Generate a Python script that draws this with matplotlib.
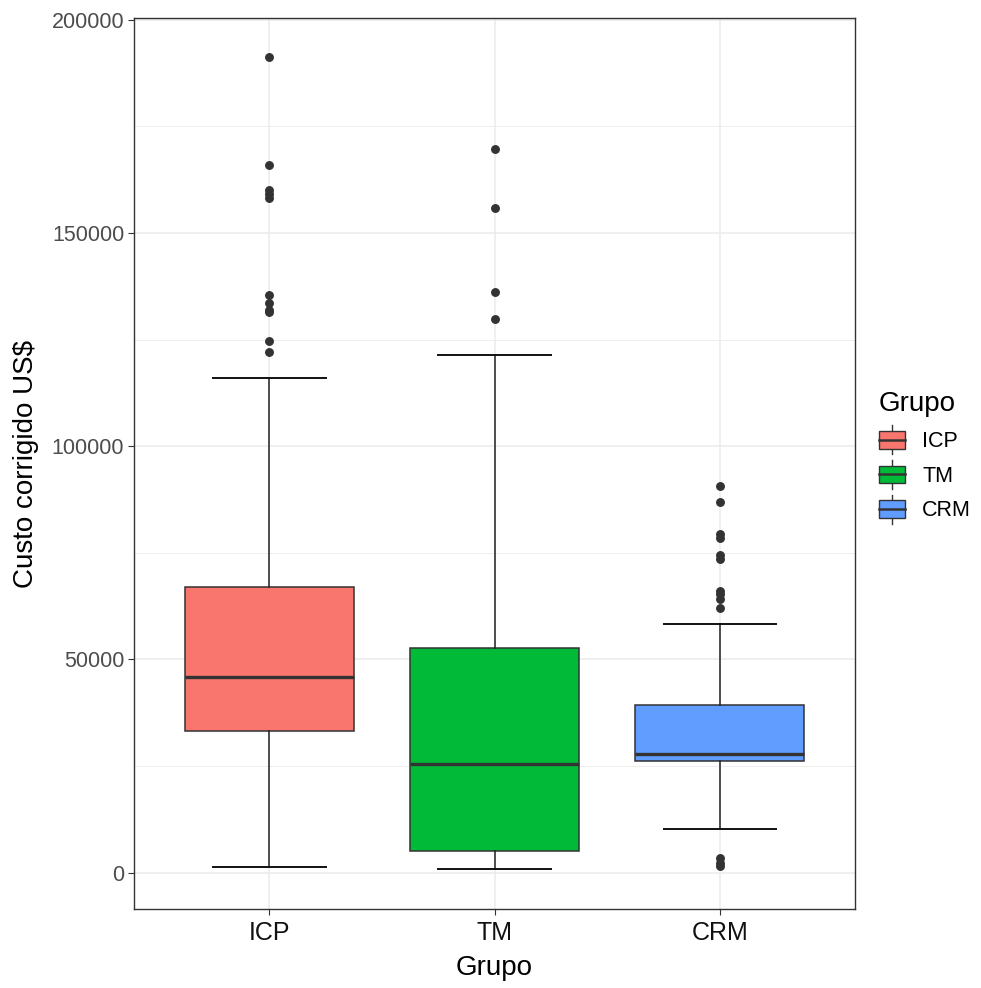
import matplotlib.pyplot as plt
from matplotlib.legend_handler import HandlerBase
from matplotlib.patches import Rectangle
from matplotlib.lines import Line2D
from matplotlib.ticker import MultipleLocator

plt.rcParams['font.family'] = ['Liberation Sans', 'DejaVu Sans']

# data
groups = ['ICP', 'TM', 'CRM']
colors = ['#F8766D', '#00BA38', '#619CFF']
whislo = [1400, 900, 10300]
q1 = [33300, 5200, 26100]
med = [45800, 25600, 27900]
q3 = [67100, 52800, 39400]
whishi = [116000, 121400, 58400]
fliers = [
    [191200, 166000, 160000, 159100, 158100, 135500, 133600, 132000, 131400,
     124700, 122200],
    [169600, 155900, 136200, 129800],
    [90600, 86800, 79500, 78500, 74600, 73500, 66000, 65300, 64200, 62100,
     3400, 2300, 1500],
]

stats = []
for i, g in enumerate(groups):
    stats.append(dict(label=g, whislo=whislo[i], q1=q1[i], med=med[i],
                      q3=q3[i], whishi=whishi[i], fliers=fliers[i]))

fig = plt.figure(figsize=(9.81, 9.88), dpi=100)
ax = fig.add_axes([0.1366, 0.08, 0.735, 0.9018])

edge = '#333333'
bp = ax.bxp(stats, positions=[1, 2, 3], widths=0.75, patch_artist=True,
            capwidths=0.5,
            boxprops=dict(edgecolor=edge, linewidth=1.1),
            medianprops=dict(color=edge, linewidth=2.4),
            whiskerprops=dict(color='#222222', linewidth=1.1),
            capprops=dict(color='#111111', linewidth=1.4),
            flierprops=dict(marker='o', markerfacecolor=edge,
                            markeredgecolor=edge, markersize=5.4))
for patch, c in zip(bp['boxes'], colors):
    patch.set_facecolor(c)
for artists in bp.values():
    for a in artists:
        a.set_zorder(3)

ax.set_xlim(0.4, 3.6)
ax.set_ylim(-8500, 200400)
ax.yaxis.set_major_locator(MultipleLocator(50000))
ax.yaxis.set_minor_locator(MultipleLocator(25000))
ax.set_yticklabels([str(int(v)) for v in ax.get_yticks()])
ax.set_xticks([1, 2, 3])
ax.set_xticklabels(groups)

ax.grid(which='major', color='#EBEBEB', linewidth=1.1, zorder=0)
ax.grid(which='minor', axis='y', color='#EBEBEB', linewidth=0.6, zorder=0)
ax.set_axisbelow(True)
for s in ax.spines.values():
    s.set_color('#333333')
    s.set_linewidth(1.0)

ax.tick_params(axis='y', which='major', labelsize=15.5, labelcolor='#4D4D4D',
               color='#333333', length=4, pad=3)
ax.tick_params(axis='x', which='major', labelsize=18, labelcolor='#111111',
               color='#333333', length=4, pad=5)
ax.tick_params(which='minor', length=0)

ax.set_xlabel('Grupo', fontsize=20, labelpad=7)
ax.set_ylabel('Custo corrigido US$', fontsize=20, labelpad=9)


class BoxKey(HandlerBase):
    def create_artists(self, legend, orig_handle, xdescent, ydescent,
                       width, height, fontsize, trans):
        x0, y0 = -xdescent, -ydescent
        cx = x0 + width / 2
        lo, hi = y0 + height * 0.12, y0 + height * 0.88
        box = Rectangle((x0, lo), width, hi - lo,
                        facecolor=orig_handle.get_facecolor(),
                        edgecolor=edge, linewidth=1.0, transform=trans)
        mid = Line2D([x0, x0 + width], [y0 + height / 2] * 2, color=edge,
                     linewidth=1.8, transform=trans)
        vtop = Line2D([cx, cx], [hi, y0 + height + 2], color=edge,
                      linewidth=1.0, transform=trans)
        vbot = Line2D([cx, cx], [y0 - 2, lo], color=edge,
                      linewidth=1.0, transform=trans)
        return [vtop, vbot, box, mid]


handles = [Rectangle((0, 0), 1, 1, facecolor=c) for c in colors]
leg = fig.legend(handles, groups, title='Grupo', loc='upper left',
                 bbox_to_anchor=(0.896, 0.604), frameon=False, fontsize=15.5,
                 title_fontsize=20, handler_map={Rectangle: BoxKey()},
                 handlelength=1.2, handleheight=1.3, labelspacing=0.5,
                 handletextpad=0.8, borderpad=0, borderaxespad=0)
leg._legend_box.align = 'left'

fig.savefig('out.png', dpi=100)
